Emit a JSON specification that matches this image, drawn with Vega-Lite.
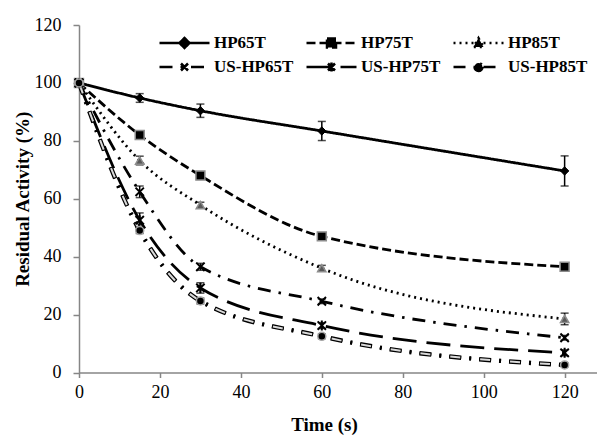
{
  "$schema": "https://vega.github.io/schema/vega-lite/v6.json",
  "width": 518,
  "height": 347.5,
  "autosize": "none",
  "padding": {"left": 79, "top": 25, "right": 0, "bottom": 63.5},
  "background": "white",
  "config": {
    "view": {"stroke": null},
    "font": "Liberation Serif",
    "axis": {
      "grid": false,
      "domainColor": "#868686",
      "domainWidth": 1.5,
      "tickColor": "#868686",
      "tickWidth": 1.5,
      "labelFont": "Liberation Serif",
      "labelFontSize": 18,
      "labelColor": "#000000",
      "labelFlush": false,
      "labelOverlap": false,
      "titleFont": "Liberation Serif",
      "titleFontSize": 19,
      "titleFontWeight": "bold",
      "titleColor": "#000000"
    }
  },
  "data": {
    "values": [
      {"series": "HP65T", "time": 0, "activity": 100, "err": 0},
      {"series": "HP65T", "time": 15, "activity": 94.8, "err": 1.5},
      {"series": "HP65T", "time": 30, "activity": 90.4, "err": 2.3},
      {"series": "HP65T", "time": 60, "activity": 83.4, "err": 3.3},
      {"series": "HP65T", "time": 120, "activity": 69.6, "err": 5.2},
      {"series": "HP75T", "time": 0, "activity": 100, "err": 0},
      {"series": "HP75T", "time": 15, "activity": 82, "err": 1.2},
      {"series": "HP75T", "time": 30, "activity": 68, "err": 1},
      {"series": "HP75T", "time": 60, "activity": 47, "err": 1},
      {"series": "HP75T", "time": 120, "activity": 36.5, "err": 1},
      {"series": "HP85T", "time": 0, "activity": 100, "err": 0},
      {"series": "HP85T", "time": 15, "activity": 73.2, "err": 1.5},
      {"series": "HP85T", "time": 30, "activity": 57.8, "err": 1},
      {"series": "HP85T", "time": 60, "activity": 36, "err": 1},
      {"series": "HP85T", "time": 120, "activity": 18.5, "err": 2},
      {"series": "US-HP65T", "time": 0, "activity": 100, "err": 0},
      {"series": "US-HP65T", "time": 15, "activity": 62.4, "err": 2},
      {"series": "US-HP65T", "time": 30, "activity": 36.5, "err": 1.2},
      {"series": "US-HP65T", "time": 60, "activity": 24.6, "err": 0.8},
      {"series": "US-HP65T", "time": 120, "activity": 12, "err": 0.8},
      {"series": "US-HP75T", "time": 0, "activity": 100, "err": 0},
      {"series": "US-HP75T", "time": 15, "activity": 52.6, "err": 2.5},
      {"series": "US-HP75T", "time": 30, "activity": 29.2, "err": 1.8},
      {"series": "US-HP75T", "time": 60, "activity": 16.2, "err": 1},
      {"series": "US-HP75T", "time": 120, "activity": 6.8, "err": 1},
      {"series": "US-HP85T", "time": 0, "activity": 100, "err": 0},
      {"series": "US-HP85T", "time": 15, "activity": 49, "err": 1},
      {"series": "US-HP85T", "time": 30, "activity": 24.7, "err": 1},
      {"series": "US-HP85T", "time": 60, "activity": 12.5, "err": 0.8},
      {"series": "US-HP85T", "time": 120, "activity": 2.6, "err": 0.6}
    ]
  },
  "encoding": {
    "x": {
      "field": "time",
      "type": "quantitative",
      "scale": {"domain": [0, 128], "nice": false, "zero": false},
      "axis": {
        "values": [0, 20, 40, 60, 80, 100, 120],
        "title": "Time (s)",
        "tickSize": 5,
        "labelPadding": 6,
        "titleX": 245,
        "titleY": 58,
        "titleAlign": "center",
        "titleBaseline": "alphabetic"
      }
    },
    "y": {
      "field": "activity",
      "type": "quantitative",
      "scale": {"domain": [0, 120], "nice": false},
      "axis": {
        "values": [0, 20, 40, 60, 80, 100, 120],
        "title": "Residual Activity (%)",
        "tickSize": 6,
        "labelPadding": 12,
        "titleX": -57,
        "titleY": 173.75,
        "titleAngle": -90,
        "titleAlign": "center",
        "titleBaseline": "middle"
      }
    }
  },
  "layer": [
    {
      "mark": {"type": "line", "interpolate": "monotone", "strokeWidth": 2.8, "color": "black"},
      "encoding": {
        "strokeDash": {
          "field": "series",
          "type": "nominal",
          "scale": {
            "domain": ["HP65T", "HP75T", "HP85T", "US-HP65T", "US-HP75T", "US-HP85T"],
            "range": [[1, 0], [9, 4], [2, 4], [13, 8, 2.5, 8], [24, 10], [12, 8, 2, 8]]
          },
          "legend": {
            "title": null,
            "orient": "none",
            "legendX": 79,
            "legendY": 7,
            "direction": "horizontal",
            "columns": 3,
            "columnPadding": 11,
            "rowPadding": 2,
            "padding": 0,
            "clipHeight": 22,
            "symbolSize": 2500,
            "symbolType": "M-1,0H1",
            "symbolStrokeWidth": 2.5,
            "symbolStrokeColor": "black",
            "symbolFillColor": "black",
            "symbolOffset": 0,
            "labelOffset": 3,
            "labelFont": "Liberation Serif",
            "labelFontSize": 17,
            "labelFontWeight": "bold",
            "labelColor": "#000000",
            "labelBaseline": "middle",
            "labelLimit": 200,
            "encode": {
              "symbols": {
                "update": {
                  "shape": {"signal": "datum.value === 'HP65T' ? 'M-1,0H1M0,-0.2L0.2,0L0,0.2L-0.2,0Z' : datum.value === 'HP75T' ? 'M-1,0H1M-0.18,-0.18H0.18V0.18H-0.18Z' : datum.value === 'HP85T' ? 'M-1,0H1M0,-0.2L0.2,0.16H-0.2Z' : datum.value === 'US-HP65T' ? 'M-1,0H1M-0.14,-0.14L0.14,0.14M0.14,-0.14L-0.14,0.14' : datum.value === 'US-HP75T' ? 'M-1,0H1M-0.14,-0.14L0.14,0.14M0.14,-0.14L-0.14,0.14M0,-0.18V0.18' : 'M-1,0H1M0.16,0A0.16,0.16,0,1,1,-0.16,0A0.16,0.16,0,1,1,0.16,0Z'"},
                  "fill": {"value": "black"},
                  "stroke": {"value": "black"},
                  "strokeWidth": {"value": 2.5},
                  "size": {"value": 2500},
                  "opacity": {"value": 1}
                }
              }
            }
          }
        }
      }
    },
    {
      "transform": [{"filter": "datum.series === 'US-HP85T'"}],
      "mark": {"type": "line", "interpolate": "monotone", "strokeWidth": 4.5, "color": "black", "strokeDash": [12, 8, 2, 8]},
      "encoding": {}
    },
    {
      "transform": [{"filter": "datum.series === 'US-HP85T'"}],
      "mark": {"type": "line", "interpolate": "monotone", "strokeWidth": 2, "color": "#d9d9d9", "strokeDash": [10, 20], "strokeDashOffset": -1},
      "encoding": {}
    },
    {
      "transform": [{"filter": "datum.err > 0"}],
      "mark": {"type": "errorbar", "orient": "vertical", "ticks": true, "size": 8, "thickness": 1.5, "color": "black"},
      "encoding": {
        "yError": {"field": "err"},
        "detail": {"field": "series", "type": "nominal"}
      }
    },
    {
      "transform": [{"filter": "datum.series === 'HP65T'"}],
      "mark": {"type": "point", "shape": "diamond", "filled": true, "fill": "#000000", "stroke": "#000000", "strokeWidth": 1, "size": 70, "opacity": 1},
      "encoding": {}
    },
    {
      "transform": [{"filter": "datum.series === 'HP75T'"}],
      "mark": {"type": "point", "shape": "square", "filled": true, "fill": "#000000", "stroke": "#8c8c8c", "strokeWidth": 1.5, "size": 80, "opacity": 1},
      "encoding": {}
    },
    {
      "transform": [{"filter": "datum.series === 'HP85T'"}],
      "mark": {"type": "point", "shape": "triangle-up", "filled": true, "fill": "#595959", "stroke": "#8c8c8c", "strokeWidth": 1.5, "size": 70, "opacity": 1},
      "encoding": {}
    },
    {
      "transform": [{"filter": "datum.series === 'US-HP65T'"}],
      "mark": {"type": "point", "shape": "M-1,-1L1,1M1,-1L-1,1", "filled": false, "stroke": "#000000", "strokeWidth": 2, "size": 70, "opacity": 1},
      "encoding": {}
    },
    {
      "transform": [{"filter": "datum.series === 'US-HP75T'"}],
      "mark": {"type": "point", "shape": "M-1,-1L1,1M1,-1L-1,1M0,-1.2V1.2", "filled": false, "stroke": "#000000", "strokeWidth": 2, "size": 70, "opacity": 1},
      "encoding": {}
    },
    {
      "transform": [{"filter": "datum.series === 'US-HP85T'"}],
      "mark": {"type": "point", "shape": "circle", "filled": true, "fill": "#000000", "stroke": "#a6a6a6", "strokeWidth": 1.5, "size": 64, "opacity": 1},
      "encoding": {}
    }
  ]
}
